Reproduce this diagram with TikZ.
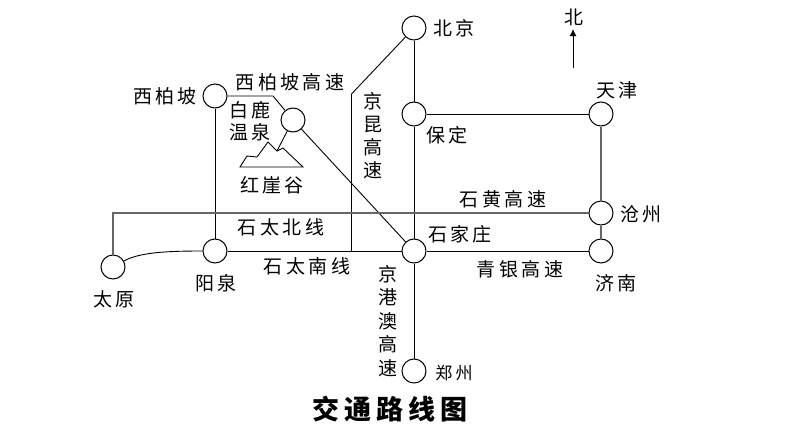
\documentclass[tikz,border=0pt]{standalone}
\usepackage{fontspec}
\setmainfont[LetterSpace=18]{Noto Sans CJK SC}
\usetikzlibrary{arrows.meta,calc}
\tikzset{stop/.style={circle,draw,line width=1pt,fill=white,inner sep=0pt,minimum size=24pt}}
\tikzset{road/.style={draw=black,line width=.95pt}}
\tikzset{slim/.style={draw=black,line width=.9pt}}
\tikzset{oldroad/.style={draw=black!60,line width=1.1pt}}
\tikzset{lab/.style={font=\fontsize{19}{20}\selectfont,inner sep=0pt,align=center}}
\begin{document}
\begin{tikzpicture}[x=1pt,y=-1pt]
  \useasboundingbox (0,0) rectangle (794,447);
  % stations
  \node[stop] (beijing) at (414,28) {};
  \node[stop] (baoding) at (414,114) {};
  \node[stop] (tianjin) at (601,114) {};
  \node[stop] (xibaipo) at (215,96) {};
  \node[stop] (wenquan) at (293,120) {};
  \node[stop] (cangzhou) at (601,213) {};
  \node[stop] (jinan) at (601,251) {};
  \node[stop] (shijia) at (414,251) {};
  \node[stop] (zhengzhou) at (414,371) {};
  \node[stop] (yangquan) at (215,251) {};
  \node[stop] (taiyuan) at (113,267) {};
  % bends
  \coordinate (kunbend) at (351.5,94);
  \coordinate (kunfoot) at (351.5,251);
  \coordinate (xibend) at (273,96);
  \coordinate (huangbend) at (113,213);
  \coordinate (crest) at (277,151);
  \coordinate (northfoot) at (573,68);
  \coordinate (northtip) at (573,29);
  % roads
  \draw[road] (beijing) -- (baoding);
  \draw[road] (baoding) -- (shijia);
  \draw[road] (shijia) -- (zhengzhou);
  \draw[road] (baoding) -- (tianjin);
  \draw[road] (shijia) -- (jinan);
  \draw[road] (yangquan) -- (shijia);
  \draw[road] (xibaipo) -- (yangquan);
  \draw[slim] (beijing) -- (kunbend) -- (kunfoot);
  \draw[slim] (xibaipo) -- (xibend) -- (wenquan);
  \draw[slim] (wenquan) -- (shijia);
  \draw[slim] (wenquan) -- (crest);
  \draw[oldroad] (taiyuan) -- (huangbend) -- (cangzhou);
  \draw[oldroad] (tianjin) -- (cangzhou);
  \draw[oldroad] (cangzhou) -- (jinan);
  \draw[slim] (taiyuan) .. controls (140,252) and (170,251) .. (yangquan);
  % mountain
  \draw[slim] (240,167) -- (247,156) -- (257,157) -- (268,142) -- (crest) -- (283,148) -- (303,167) -- cycle;
  % north
  \draw[-{Latex[length=7pt,width=7pt]},line width=1pt] (northfoot) -- (northtip);
  \node[lab] (north) at (574,17) {北};
  % names
  \node[lab] (nbeijing) at (454,28) {北京};
  \node[lab] (nbaoding) at (447,135) {保定};
  \node[lab] (ntianjin) at (617,90) {天津};
  \node[lab] (nxibaipo) at (165,96) {西柏坡};
  \node[lab] (nxigao) at (290,82) {西柏坡高速};
  \node[lab] (nwenquan) at (250,121) {白鹿\\[2pt]温泉};
  \node[lab] (nhongya) at (272,185) {红崖谷};
  \node[lab] (nhuang) at (503,199) {石黄高速};
  \node[lab] (ncang) at (641,214) {沧州};
  \node[lab] (nbei) at (281,227) {石太北线};
  \node[lab] (nnan) at (307,266) {石太南线};
  \node[lab] (nshijia) at (460,234) {石家庄};
  \node[lab] (nqing) at (520,269) {青银高速};
  \node[lab] (njinan) at (616,283) {济南};
  \node[lab] (nyang) at (216,283) {阳泉};
  \node[lab] (ntai) at (114,299) {太原};
  \node[lab,font=\fontsize{17}{18}\selectfont] (nzheng) at (454,373) {郑州};
  \node[lab] (nkun) at (373,136) {京\\[3pt]昆\\[3pt]高\\[3pt]速};
  \node[lab] (ngang) at (388,321) {京\\[3.5pt]港\\[3.5pt]澳\\[3.5pt]高\\[3.5pt]速};
  \node[lab,font=\fontsize{27}{29}\selectfont\bfseries] (title) at (390,409) {交通路线图};
\end{tikzpicture}
\end{document}
